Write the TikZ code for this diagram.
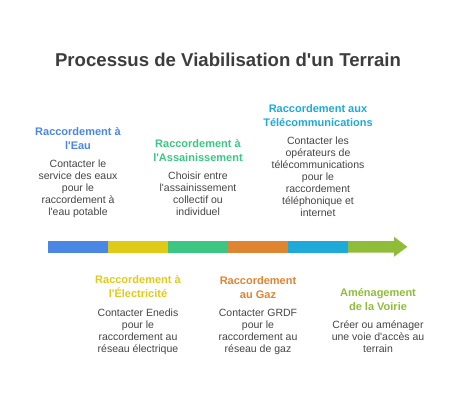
\documentclass[tikz,border=0pt]{standalone}
\usepackage{fontspec}
\setmainfont{Liberation Sans}[Ligatures=TeXOff]

\definecolor{eaublue}{HTML}{4A86E4}
\definecolor{elecyellow}{HTML}{E0CA18}
\definecolor{assgreen}{HTML}{3CC683}
\definecolor{gazorange}{HTML}{DF8430}
\definecolor{telecyan}{HTML}{1EA9D8}
\definecolor{voirielime}{HTML}{8FBD3A}
\definecolor{textgray}{HTML}{444444}

\tikzset{
    steptitle/.style={font=\bfseries\fontsize{11}{14}\selectfont, align=center, inner sep=0pt, anchor=north},
    stepdesc/.style={font=\fontsize{10.5}{12}\selectfont, text=textgray, align=center, inner sep=0pt, anchor=north}
}

\def\barleft{48}
\def\segw{60}
\def\bartop{241}
\def\barbot{252.7}

\begin{document}
\begin{tikzpicture}[x=1pt,y=-1pt]
        \useasboundingbox (0,0) rectangle (456,410);
        % title
        \node[font=\bfseries\fontsize{18.6}{22}\selectfont, text=textgray!90!black, anchor=base, inner sep=0pt] (title) at (228,66.7) {Processus de Viabilisation d'un Terrain};
        % timeline segments
        \foreach \col [count=\i] in {eaublue,elecyellow,assgreen,gazorange,telecyan}
            \fill[\col] (\barleft+\segw*\i-\segw,\bartop) rectangle (\barleft+\segw*\i,\barbot);
        % last segment with arrow head
        \fill[voirielime] (348,\bartop) -- (394,\bartop) -- (394,236.7) -- (407.3,246.85)
            -- (394,256.7) -- (394,\barbot) -- (348,\barbot) -- cycle;
        % eau (above)
        \node[steptitle, text=eaublue] (eau) at (78,127) {Raccordement à\\l'Eau};
        \node[stepdesc] (eaudesc) at (78,160) {Contacter le\\service des eaux\\pour le\\raccordement à\\l'eau potable};
        % electricite (below)
        \node[steptitle, text=elecyellow] (elec) at (138,275.5) {Raccordement à\\l'Électricité};
        \node[stepdesc] (elecdesc) at (138,308.5) {Contacter Enedis\\pour le\\raccordement au\\réseau électrique};
        % assainissement (above)
        \node[steptitle, text=assgreen] (ass) at (198,139) {Raccordement à\\l'Assainissement};
        \node[stepdesc] (assdesc) at (198,172) {Choisir entre\\l'assainissement\\collectif ou\\individuel};
        % gaz (below)
        \node[steptitle, text=gazorange] (gaz) at (258,276) {Raccordement\\au Gaz};
        \node[stepdesc] (gazdesc) at (258,308.5) {Contacter GRDF\\pour le\\raccordement au\\réseau de gaz};
        % telecommunications (above)
        \node[steptitle, text=telecyan] (tele) at (318,104.5) {Raccordement aux\\Télécommunications};
        \node[stepdesc] (teledesc) at (318,136.5) {Contacter les\\opérateurs de\\télécommunications\\pour le\\raccordement\\téléphonique et\\internet};
        % voirie (below)
        \node[steptitle, text=voirielime] (voirie) at (378,288.5) {Aménagement\\de la Voirie};
        \node[stepdesc] (voiriedesc) at (378,320.5) {Créer ou aménager\\une voie d'accès au\\terrain};
    \end{tikzpicture}
\end{document}
